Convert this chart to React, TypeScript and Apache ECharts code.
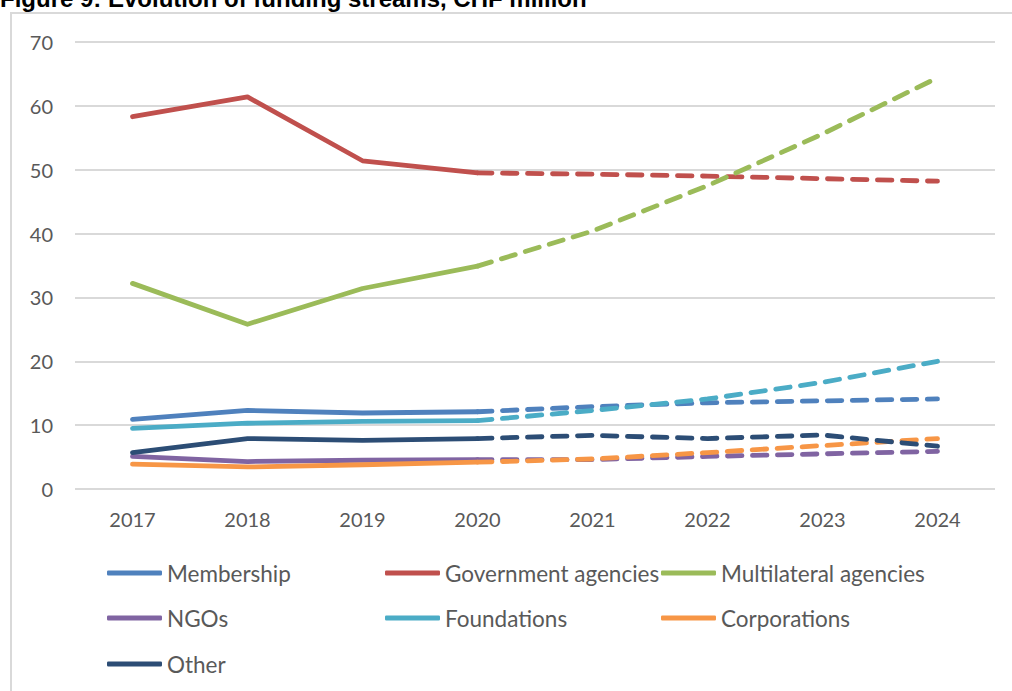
import React, { useEffect, useRef } from "react";
import * as echarts from "echarts";

const years = ["2017", "2018", "2019", "2020", "2021", "2022", "2023", "2024"];
const membership = [10.9, 12.3, 11.9, 12.1, 12.9, 13.5, 13.8, 14.1];
const government = [58.3, 61.4, 51.4, 49.5, 49.3, 49.0, 48.6, 48.2];
const multilateral = [32.2, 25.8, 31.4, 34.9, 40.4, 47.5, 55.6, 64.4];
const ngos = [5.1, 4.3, 4.5, 4.6, 4.6, 5.1, 5.5, 5.9];
const foundations = [9.5, 10.3, 10.6, 10.7, 12.3, 14.1, 16.7, 20.0];
const corporations = [3.9, 3.45, 3.8, 4.2, 4.7, 5.7, 6.8, 7.9];
const other = [5.7, 7.9, 7.6, 7.9, 8.4, 7.9, 8.45, 6.7];
const lastActualYear = "2020";
const yMin = 0;
const yMax = 70;
const yStep = 10;
const title = "Figure 9: Evolution of funding streams, CHF million";

const seriesDefs = [
  { name: "Membership", data: membership, color: "#4f81bd" },
  { name: "Government agencies", data: government, color: "#c0504d" },
  { name: "Multilateral agencies", data: multilateral, color: "#9bbb59" },
  { name: "NGOs", data: ngos, color: "#8064a2" },
  { name: "Foundations", data: foundations, color: "#4bacc6" },
  { name: "Corporations", data: corporations, color: "#f79646" },
  { name: "Other", data: other, color: "#2c4d75" },
];

const legendPos = [
  { left: 107, row: 0 },
  { left: 385, row: 0 },
  { left: 661, row: 0 },
  { left: 107, row: 1 },
  { left: 385, row: 1 },
  { left: 661, row: 1 },
  { left: 107, row: 2 },
];
const legendRowCenters = [573, 618, 664];

const FONT = "Lato";
const TEXT_COLOR = "#595959";

export default function App() {
  const ref = useRef<HTMLDivElement>(null);
  useEffect(() => {
    if (!ref.current) return;
    const chart = echarts.init(ref.current, null, { renderer: "svg" });
    const split = years.indexOf(lastActualYear);
    const series: any[] = [];
    seriesDefs.forEach((d) => {
      series.push({
        type: "line",
        name: d.name,
        data: d.data.map((v, i) => (i <= split ? v : null)),
        symbol: "none",
        color: d.color,
        lineStyle: { width: 4.8, color: d.color, cap: "round", join: "round" },
        z: 2,
      });
      series.push({
        type: "line",
        name: d.name + " (projection)",
        data: d.data.map((v, i) => (i >= split ? v : null)),
        symbol: "none",
        color: d.color,
        lineStyle: {
          width: 4.8,
          color: d.color,
          type: [14.5, 10.5],
          cap: "round",
          join: "round",
        },
        z: 2,
      });
    });
    const legends = seriesDefs.map((d, i) => ({
      data: [d.name],
      left: legendPos[i].left,
      top: legendRowCenters[legendPos[i].row] - 13,
      padding: 0,
      icon: "roundRect",
      itemWidth: 55,
      itemHeight: 5,
      selectedMode: false,
      textStyle: { fontFamily: FONT, fontSize: 22.5, color: TEXT_COLOR, lineHeight: 26 },
    }));
    chart.setOption({
      animation: false,
      backgroundColor: "#ffffff",
      grid: { left: 75, right: 17, top: 42, bottom: 202, containLabel: false },
      legend: legends,
      xAxis: {
        type: "category",
        data: years,
        boundaryGap: true,
        axisLine: { show: false },
        axisTick: { show: false },
        axisLabel: { fontFamily: FONT, fontSize: 20, color: TEXT_COLOR, margin: 20 },
      },
      yAxis: {
        type: "value",
        min: yMin,
        max: yMax,
        interval: yStep,
        axisLine: { show: false },
        axisTick: { show: false },
        axisLabel: { fontFamily: FONT, fontSize: 20, color: TEXT_COLOR, margin: 22 },
        splitLine: { lineStyle: { color: "#d9d9d9", width: 2 } },
      },
      graphic: [
        {
          type: "rect",
          shape: { x: 11, y: 13, width: 1200, height: 1000 },
          style: { fill: "none", stroke: "#d9d9d9", lineWidth: 2 },
          silent: true,
          z: 0,
        },
        {
          type: "text",
          x: 0,
          y: -2,
          style: {
            text: title,
            font: "bold 24px 'Liberation Sans', Arial, sans-serif",
            fill: "#000000",
            textVerticalAlign: "middle",
          },
          z: 10,
        },
      ],
      series,
    });
    return () => chart.dispose();
  }, []);
  return (
    <div
      ref={ref}
      style={{ position: "fixed", left: 0, top: 0, width: 1012, height: 691 }}
    />
  );
}
